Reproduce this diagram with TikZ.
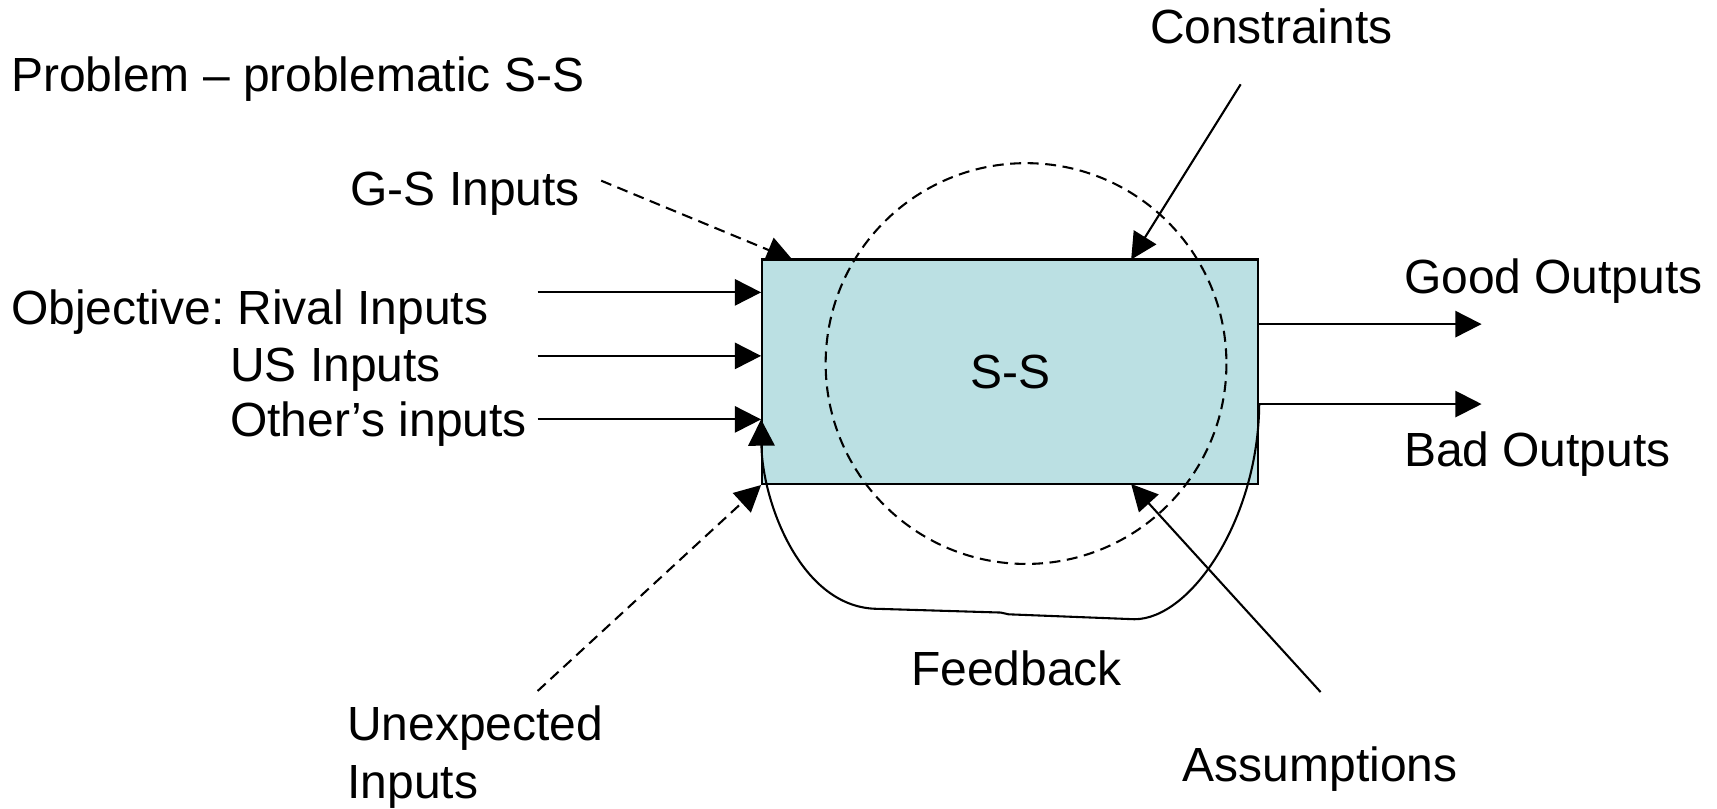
\documentclass[tikz,border=0pt]{standalone}
\usepackage{fontspec}
\setmainfont{Liberation Sans}
\usetikzlibrary{arrows.meta,calc}
\frenchspacing
\definecolor{boxfill}{RGB}{187,224,227}
\tikzset{
  lbl/.style={anchor=base west, inner sep=0pt, font=\fontsize{43.8}{52}\selectfont},
  con/.style={line width=1.9pt, draw=black},
  arr/.style={con, -{Triangle[length=24pt,width=24pt]}},
  dsh/.style={dash pattern=on 10pt off 6pt},
  sysbox/.style={draw=black, line width=1.9pt, fill=boxfill, inner sep=0pt,
    minimum width=453pt, minimum height=205pt,
    font=\fontsize{43.8}{52}\selectfont},
}
\begin{document}
\begin{tikzpicture}[x=1pt,y=-1pt]
\useasboundingbox (0,0) rectangle (1568,738);

% labels
\node[lbl] (title) at (10,84) {Problem – problematic S-S};
\node[lbl] (cons)  at (1050,40) {Constraints};
\node[lbl] (gs)    at (320,188) {G-S Inputs};
\node[lbl] (obj)   at (10,296) {Objective: Rival Inputs};
\node[lbl] (us)    at (210,348) {US Inputs};
\node[lbl] (oth)   at (210,399) {Other’s inputs};
\node[lbl] (good)  at (1282,268) {Good Outputs};
\node[lbl] (bad)   at (1282,426) {Bad Outputs};
\node[lbl] (fb)    at (832,626) {Feedback};
\node[lbl] (unx)   at (317,676) {Unexpected};
\node[lbl] (unx2)  at (317,729) {Inputs};
\node[lbl] (assm)  at (1080,714) {Assumptions};

% connector end points
\coordinate (gsA) at (549,165);
\coordinate (gsB) at (724,237.5);
\coordinate (in1) at (491,267);
\coordinate (in2) at (491,325);
\coordinate (in3) at (491,383);
\coordinate (out1) at (1353,296);
\coordinate (out2) at (1353,369);
\coordinate (csA) at (1133,77);
\coordinate (csB) at (1033,237);
\coordinate (asA) at (1206,632);
\coordinate (asB) at (1033,442);
\coordinate (unA) at (491,631);

% the G-S input runs in under the box edge
\draw[arr, dsh] (gsA) -- (gsB);

% the system
\node[sysbox] (ss) at (922.5,339.5) {S-S};

% environment boundary
\draw[con, dsh] (937,332) circle[radius=183];

% inputs
\draw[arr] (in1) -- (in1 -| ss.west);
\draw[arr] (in2) -- (in2 -| ss.west);
\draw[arr] (in3) -- (in3 -| ss.west);
\draw[arr, dsh] (unA) -- (ss.south west);

% outputs
\draw[arr] (out1 -| ss.east) -- (out1);
\draw[arr] (out2 -| ss.east) -- (out2);

% constraints and assumptions
\draw[arr] (csA) -- (csB);
\draw[arr] (asA) -- (asB);

% feedback loop from the bad outputs back to the inputs
\draw[arr] (out2 -| ss.east)
  .. controls (1149,475) and (1087,565.5) .. (1036,565.5)
  -- (921,561) .. controls (918,560) and (917,559.5) .. (914,559.4)
  -- (802,556)
  .. controls (731,556) and (696,457) .. (in3 -| ss.west);
\end{tikzpicture}
\end{document}
